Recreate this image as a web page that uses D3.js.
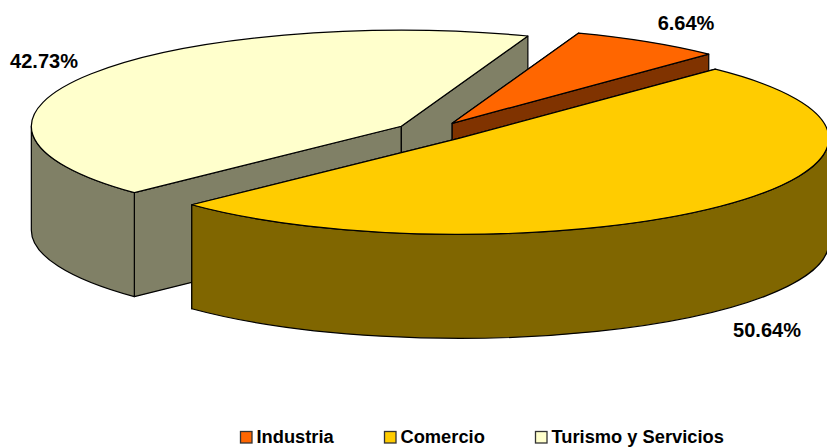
<!DOCTYPE html>
<html>
<head>
<meta charset="utf-8">
<script src="https://cdn.jsdelivr.net/npm/d3@7"></script>
<style>
    html, body { margin: 0; padding: 0; background: #fff; }
    svg { display: block; }
    text { font-family: "Liberation Sans", Arial, sans-serif; font-weight: bold; fill: #000; }
</style>
</head>
<body>
<div id="chart"></div>
<script>
var categories = ["Industria", "Comercio", "Turismo y Servicios"];
var shares = [6.64, 50.64, 42.73];
var shareLabels = ["6.64%", "50.64%", "42.73%"];
var topColors = ["#FF6600", "#FFCC00", "#FFFFCC"];
var sideColors = ["#803300", "#806600", "#808066"];

function drawPie(placement, width, height) {
    var rx = 370, ry = 96, depth = 104;
    var cx = 432.5, cy = 131.5, explode = 37.2;
    var tilt = ry / rx;

    var svg = d3.select(placement).append("svg")
        .attr("width", width).attr("height", height)
        .attr("viewBox", [0, 0, width, height]);

    var pie = d3.pie().sort(null)
        .startAngle(20 * Math.PI / 180)
        .endAngle(380 * Math.PI / 180);

    var slices = pie(shares).map(function(d, i) {
        var mid = (d.startAngle + d.endAngle) / 2;
        return {
            i: i,
            a0: d.startAngle,
            a1: d.endAngle,
            ox: cx + explode * Math.sin(mid),
            oy: cy - explode * tilt * Math.cos(mid)
        };
    });

    function pt(s, a, dz) {
        return [s.ox + rx * Math.sin(a), s.oy - ry * Math.cos(a) + (dz || 0)];
    }
    function arcTo(s, a0, a1, dz) {
        var p = pt(s, a1, dz);
        return "A" + rx + "," + ry + " 0 " + (Math.abs(a1 - a0) > Math.PI ? 1 : 0) + " " + (a1 > a0 ? 1 : 0) + " " + p[0] + "," + p[1];
    }
    function topFace(s) {
        var p = pt(s, s.a0);
        return "M" + s.ox + "," + s.oy + "L" + p + arcTo(s, s.a0, s.a1) + "Z";
    }
    function cutWall(s, a) {
        var p = pt(s, a);
        return "M" + s.ox + "," + s.oy + "L" + p + "L" + p[0] + "," + (p[1] + depth) + "L" + s.ox + "," + (s.oy + depth) + "Z";
    }
    // outer rim, only the part on the front half of the ellipse
    function rimWall(s) {
        var a0 = Math.max(s.a0, Math.PI / 2), a1 = Math.min(s.a1, 3 * Math.PI / 2);
        if (a1 <= a0) return null;
        return "M" + pt(s, a0) + arcTo(s, a0, a1) + "L" + pt(s, a1, depth) + arcTo(s, a1, a0, depth) + "Z";
    }

    // back to front: Turismo, Industria, Comercio
    var order = [2, 0, 1];
    var g = svg.selectAll(".slice").data(order.map(function(i) { return slices[i]; }))
        .enter().append("g").attr("class", "slice")
        .attr("stroke", "#000").attr("stroke-width", 1.2).attr("stroke-linejoin", "round");

    g.each(function(s) {
        var sel = d3.select(this), side = sideColors[s.i];
        [s.a0, s.a1].forEach(function(a) {
            sel.append("path").attr("d", cutWall(s, a)).attr("fill", side);
        });
        var rim = rimWall(s);
        if (rim) sel.append("path").attr("d", rim).attr("fill", side);
        sel.append("path").attr("d", topFace(s)).attr("fill", topColors[s.i]);
    });

    var labelPos = [[686, 30], [767, 337], [44, 68]];
    svg.selectAll(".pct").data(shareLabels)
        .enter().append("text").attr("class", "pct")
        .attr("x", function(d, i) { return labelPos[i][0]; })
        .attr("y", function(d, i) { return labelPos[i][1]; })
        .attr("text-anchor", "middle")
        .attr("font-size", "20px")
        .text(function(d) { return d; });

    var legendX = [240, 384, 535];
    var legend = svg.selectAll(".legend").data(categories)
        .enter().append("g").attr("class", "legend")
        .attr("transform", function(d, i) { return "translate(" + legendX[i] + ",431)"; });
    legend.append("rect")
        .attr("x", 0.5).attr("y", 0.5).attr("width", 11.5).attr("height", 11.5)
        .attr("fill", function(d, i) { return topColors[i]; })
        .attr("stroke", "#333").attr("stroke-width", 1.3);
    legend.append("text")
        .attr("x", 16.5).attr("y", 12)
        .attr("font-size", "18.3px")
        .text(function(d) { return d; });
}

drawPie("#chart", 827, 447);
</script>
</body>
</html>
